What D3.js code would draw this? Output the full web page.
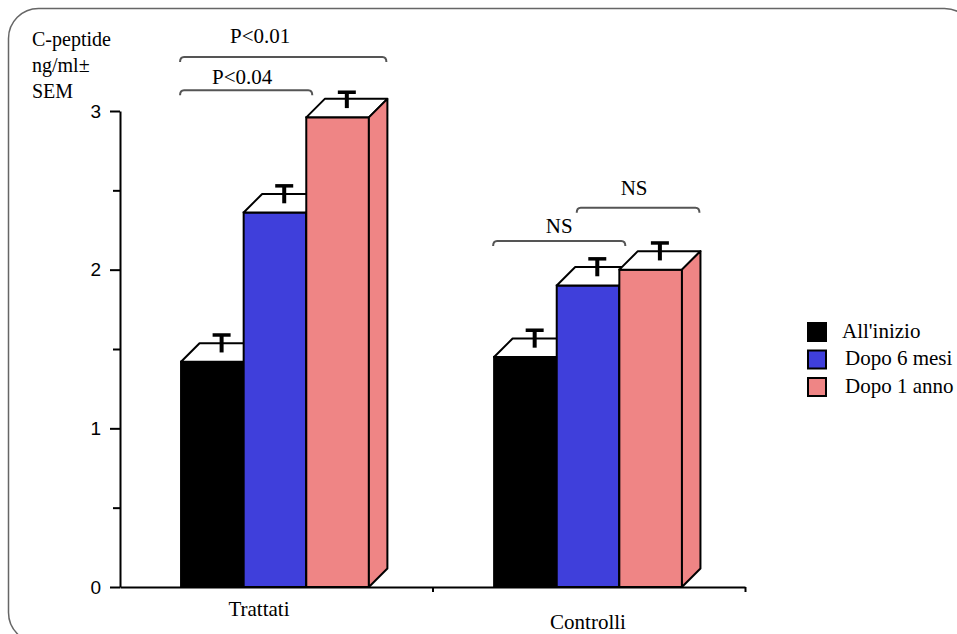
<!DOCTYPE html>
<html>
<head>
<meta charset="utf-8">
<script src="https://cdn.jsdelivr.net/npm/d3@7"></script>
<style>
  body { margin: 0; background: #fff; }
  svg { display: block; }
</style>
</head>
<body>
<div id="chart"></div>
<script>
// data
const groups = ["Trattati", "Controlli"];
const series = ["All'inizio", "Dopo 6 mesi", "Dopo 1 anno"];
const colors = ["#000000", "#3f3fdb", "#ef8585"];
const trattati = [1.42, 2.36, 2.96];
const controlli = [1.45, 1.90, 2.00];
const semTrattati = [0.11, 0.11, 0.10];
const semControlli = [0.11, 0.11, 0.11];
const yTicks = [0, 1, 2, 3];
const yMinor = [0.5, 1.5, 2.5];
const yTitle = ["C-peptide", "ng/ml\u00b1", "SEM"];
// significance brackets: group index, first bar, last bar, level in data units
const brackets = [
  {g: 0, from: 0, to: 1, level: 3.13, label: "P<0.04"},
  {g: 0, from: 0, to: 2, level: 3.34, label: "P<0.01"},
  {g: 1, from: 0, to: 1, level: 2.18, label: "NS"},
  {g: 1, from: 1, to: 2, level: 2.39, label: "NS"}
];

const values = [trattati, controlli];
const sems = [semTrattati, semControlli];

const W = 957, H = 634;
const serif = "'Liberation Serif', 'Times New Roman', serif";
const sans = "'Liberation Sans', Arial, sans-serif";

const svg = d3.select("#chart").append("svg")
  .attr("width", W).attr("height", H);

// rounded frame
svg.append("rect")
  .attr("x", 8.5).attr("y", 8.5)
  .attr("width", 966).attr("height", 634)
  .attr("rx", 30).attr("ry", 30)
  .style("fill", "none").style("stroke", "#666").style("stroke-width", 1.5);

const y = d3.scaleLinear().domain([0, 3]).range([587, 111]);
const x0 = d3.scaleBand().domain(groups).range([120, 743])
  .paddingInner(0.4).paddingOuter(0.195);
const x1 = d3.scaleBand().domain(series).range([0, x0.bandwidth()]);
const depth = 18.5;

// y axis
svg.append("g")
  .attr("transform", "translate(120,0)")
  .call(d3.axisLeft(y).tickValues(yTicks).tickFormat(d3.format("d"))
    .tickSize(10).tickPadding(9).tickSizeOuter(0))
  .call(g => g.selectAll("path, line").style("stroke", "#000").style("stroke-width", 2))
  .call(g => g.selectAll("text").style("font-family", sans).style("font-size", "19px").style("fill", "#000"));
svg.append("g")
  .attr("transform", "translate(120,0)")
  .call(d3.axisLeft(y).tickValues(yMinor).tickSize(7).tickFormat(""))
  .call(g => g.select(".domain").remove())
  .call(g => g.selectAll("line").style("stroke", "#000").style("stroke-width", 2));

// x axis: ticks at group boundaries
const xEdge = d3.scaleLinear().domain([0, 2]).range([120, 745]);
svg.append("g")
  .attr("transform", "translate(0,587)")
  .call(d3.axisBottom(xEdge).tickValues([1, 2]).tickSize(5).tickFormat("").tickSizeOuter(0))
  .call(g => g.selectAll("path, line").style("stroke", "#000").style("stroke-width", 2));

const labelShift = [[-16, 29], [0, 42]];
svg.selectAll(".cat").data(groups).join("text")
  .attr("class", "cat")
  .attr("x", (d, i) => x0(d) + x0.bandwidth() / 2 + labelShift[i][0])
  .attr("y", (d, i) => 587 + labelShift[i][1])
  .attr("text-anchor", "middle")
  .style("font-family", serif).style("font-size", "21px")
  .text(d => d);

// y title
svg.append("text")
  .attr("x", 32).attr("y", 46)
  .style("font-family", serif).style("font-size", "20px")
  .selectAll("tspan").data(yTitle).join("tspan")
  .attr("x", 32).attr("dy", (d, i) => i ? 26 : 0)
  .text(d => d);

// 3D bars
const bars = [];
groups.forEach((g, gi) => {
  series.forEach((s, si) => {
    bars.push({g, gi, si, v: values[gi][si], sem: sems[gi][si]});
  });
});

const barG = svg.append("g");
bars.forEach(b => {
  const bx = x0(b.g) + x1(series[b.si]);
  const bw = x1.bandwidth();
  const yt = y(b.v), yb = y(0);
  const g = barG.append("g");
  g.append("rect")
    .attr("x", bx).attr("y", yt).attr("width", bw).attr("height", yb - yt)
    .style("fill", colors[b.si]).style("stroke", "#000").style("stroke-width", 2);
  g.append("polygon")
    .attr("points", [[bx, yt], [bx + bw, yt], [bx + bw + depth, yt - depth], [bx + depth, yt - depth]].join(" "))
    .style("fill", "#fff").style("stroke", "#000").style("stroke-width", 2).style("stroke-linejoin", "round");
  g.append("polygon")
    .attr("points", [[bx + bw, yt], [bx + bw + depth, yt - depth], [bx + bw + depth, yb - depth], [bx + bw, yb]].join(" "))
    .style("fill", colors[b.si]).style("stroke", "#000").style("stroke-width", 2).style("stroke-linejoin", "round");
});

// error bars, standing on the middle of the top face
bars.forEach(b => {
  const cx = x0(b.g) + x1(series[b.si]) + x1.bandwidth() / 2 + depth / 2;
  const y1 = y(b.v) - depth / 2;
  const y2 = y(b.v + b.sem) - depth / 2;
  barG.append("line")
    .attr("x1", cx).attr("x2", cx).attr("y1", y1).attr("y2", y2)
    .style("stroke", "#000").style("stroke-width", 4);
  barG.append("line")
    .attr("x1", cx - 9).attr("x2", cx + 9).attr("y1", y2).attr("y2", y2)
    .style("stroke", "#000").style("stroke-width", 3.5);
});

// significance brackets
const labelNudge = [[-4, -6], [-23, -14], [0, -8], [-4, -13]];
brackets.forEach((b, i) => {
  const g = groups[b.g];
  const xa = x0(g) + x1(series[b.from]) + (b.from === 0 ? -1 : 20);
  const xb = x0(g) + x1(series[b.to]) + x1.bandwidth() + (b.to === 2 ? depth - 1 : 6);
  const yl = y(b.level);
  const p = d3.path();
  p.moveTo(xa, yl + 5);
  p.quadraticCurveTo(xa, yl, xa + 4, yl);
  p.lineTo(xb - 4, yl);
  p.quadraticCurveTo(xb, yl, xb, yl + 5);
  svg.append("path").attr("d", p.toString())
    .style("fill", "none").style("stroke", "#555").style("stroke-width", 2);
  svg.append("text")
    .attr("x", (xa + xb) / 2 + labelNudge[i][0])
    .attr("y", yl + labelNudge[i][1])
    .attr("text-anchor", "middle")
    .style("font-family", serif).style("font-size", "21px")
    .text(b.label);
});

// legend
const legend = svg.append("g").attr("transform", "translate(808,323)");
series.forEach((s, i) => {
  const row = legend.append("g").attr("transform", `translate(0,${i * 27.5})`);
  row.append("rect").attr("width", 18).attr("height", 18)
    .style("fill", colors[i]).style("stroke", "#000").style("stroke-width", 2);
  row.append("text").attr("x", i === 0 ? 34 : 37).attr("y", 14.5)
    .style("font-family", serif).style("font-size", "21px")
    .text(s);
});
</script>
</body>
</html>
